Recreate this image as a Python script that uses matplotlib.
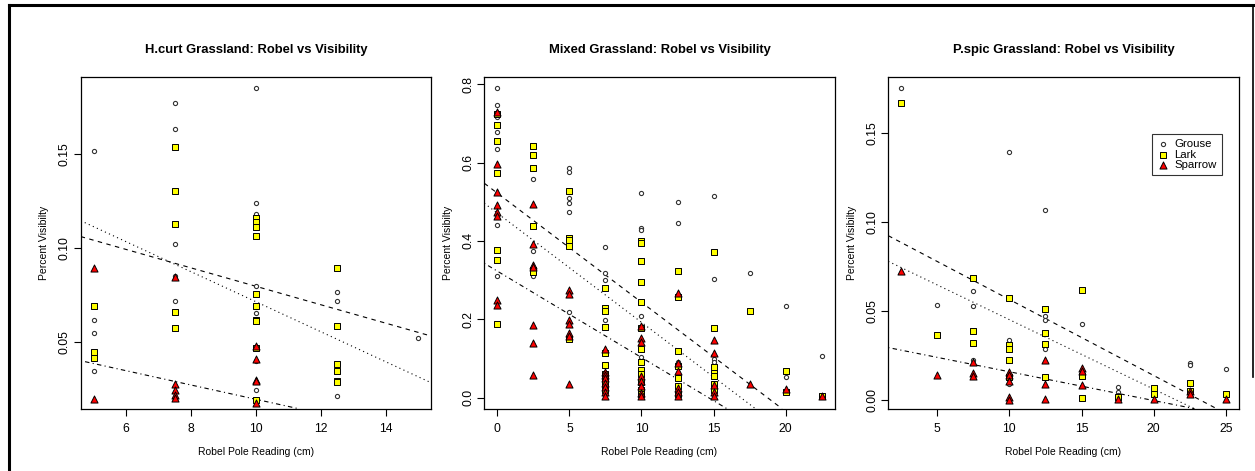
import matplotlib
matplotlib.use('Agg')
import matplotlib.pyplot as plt
from matplotlib.lines import Line2D

plt.rcParams['font.family'] = ['Liberation Sans', 'DejaVu Sans']

# H.curt grassland
hc_grouse_x = [5, 5, 5, 5, 7.5, 7.5, 7.5, 7.5, 7.5, 10, 10, 10, 10, 10, 10, 10, 12.5, 12.5, 12.5, 15]
hc_grouse_y = [0.1514, 0.0616, 0.0545, 0.0344, 0.1768, 0.163, 0.1018, 0.0717, 0.085,
               0.1848, 0.1236, 0.1179, 0.0798, 0.0651, 0.0243, 0.0397, 0.0763, 0.0717, 0.0211, 0.0521]
hc_lark_x = [5, 5, 5, 7.5, 7.5, 7.5, 7.5, 7.5, 10, 10, 10, 10, 10, 10, 10, 10, 10, 10,
             12.5, 12.5, 12.5, 12.5, 12.5, 12.5]
hc_lark_y = [0.069, 0.0444, 0.0412, 0.1537, 0.13, 0.1128, 0.066, 0.0575,
             0.1156, 0.1138, 0.1112, 0.1064, 0.0755, 0.0691, 0.0616, 0.0608, 0.0465, 0.019,
             0.0894, 0.0585, 0.038, 0.0346, 0.029, 0.0285]
hc_sparrow_x = [5, 5, 7.5, 7.5, 7.5, 7.5, 7.5, 10, 10, 10, 10, 10]
hc_sparrow_y = [0.089, 0.0195, 0.0846, 0.0275, 0.0243, 0.0216, 0.0199, 0.048, 0.041, 0.0296, 0.029, 0.0176]

# Mixed grassland
mx_grouse_x = [0, 0, 0, 0, 0, 0, 0, 0, 2.5, 2.5, 2.5, 5, 5, 5, 5, 5, 5, 7.5, 7.5, 7.5, 7.5, 7.5,
               10, 10, 10, 10, 10, 12.5, 12.5, 12.5, 15, 15, 15, 15, 17.5, 20, 20, 22.5]
mx_grouse_y = [0.790, 0.746, 0.726, 0.716, 0.677, 0.635, 0.441, 0.311, 0.557, 0.374, 0.311,
               0.587, 0.576, 0.509, 0.496, 0.473, 0.218, 0.385, 0.318, 0.300, 0.220, 0.197,
               0.522, 0.434, 0.428, 0.209, 0.105, 0.499, 0.445, 0.090, 0.515, 0.303, 0.100, 0.092,
               0.318, 0.234, 0.053, 0.106]
mx_lark_x = [0, 0, 0, 0, 0, 0, 0, 2.5, 2.5, 2.5, 2.5, 2.5, 2.5, 5, 5, 5, 5, 5,
             7.5, 7.5, 7.5, 7.5, 7.5, 7.5, 7.5, 7.5, 7.5,
             10, 10, 10, 10, 10, 10, 10, 10, 10, 10, 10, 10, 10,
             12.5, 12.5, 12.5, 12.5, 12.5, 12.5, 12.5, 15, 15, 15, 15, 15, 15, 15, 17.5, 20, 20, 22.5]
mx_lark_y = [0.724, 0.697, 0.656, 0.572, 0.378, 0.352, 0.189, 0.642, 0.618, 0.587, 0.439, 0.326, 0.320,
             0.527, 0.408, 0.403, 0.387, 0.149,
             0.279, 0.228, 0.222, 0.181, 0.113, 0.083, 0.060, 0.040, 0.020,
             0.400, 0.394, 0.350, 0.294, 0.245, 0.178, 0.124, 0.090, 0.071, 0.060, 0.040, 0.020, 0.010,
             0.324, 0.258, 0.119, 0.080, 0.050, 0.030, 0.010, 0.373, 0.179, 0.078, 0.064, 0.055, 0.035, 0.020,
             0.222, 0.069, 0.015, 0.005]
mx_sparrow_x = [0, 0, 0, 0, 0, 0, 0, 0, 2.5, 2.5, 2.5, 2.5, 2.5, 2.5, 2.5, 5, 5, 5, 5, 5, 5, 5,
                7.5, 7.5, 7.5, 7.5, 7.5, 7.5, 7.5, 7.5, 10, 10, 10, 10, 10, 10, 10, 10,
                12.5, 12.5, 12.5, 12.5, 12.5, 12.5, 15, 15, 15, 15, 15, 17.5, 20, 22.5]
mx_sparrow_y = [0.729, 0.597, 0.525, 0.492, 0.475, 0.464, 0.248, 0.236,
                0.494, 0.392, 0.339, 0.333, 0.186, 0.139, 0.058,
                0.275, 0.264, 0.198, 0.188, 0.164, 0.158, 0.034,
                0.124, 0.066, 0.058, 0.050, 0.038, 0.027, 0.015, 0.004,
                0.183, 0.152, 0.141, 0.055, 0.043, 0.030, 0.011, 0.005,
                0.267, 0.088, 0.068, 0.026, 0.015, 0.005, 0.146, 0.114, 0.032, 0.015, 0.005,
                0.035, 0.021, 0.004]

# P.spic grassland
ps_grouse_x = [2.5, 5, 7.5, 7.5, 7.5, 10, 10, 10, 10, 12.5, 12.5, 12.5, 12.5, 15,
               17.5, 17.5, 17.5, 20, 20, 22.5, 22.5, 25]
ps_grouse_y = [0.1753, 0.0534, 0.0612, 0.0530, 0.0226, 0.1393, 0.0339, 0.0092, 0.0120,
               0.1067, 0.0474, 0.0451, 0.0288, 0.0429, 0.0073, 0.0048, 0.0030, 0.0071, 0.0050,
               0.0208, 0.0199, 0.0174]
ps_lark_x = [2.5, 5, 7.5, 7.5, 7.5, 10, 10, 10, 10, 10, 12.5, 12.5, 12.5, 12.5, 15, 15, 15,
             17.5, 20, 20, 22.5, 22.5, 25]
ps_lark_y = [0.1672, 0.0369, 0.0689, 0.0391, 0.0324, 0.0577, 0.0311, 0.0287, 0.0225, 0.0130,
             0.0511, 0.0376, 0.0316, 0.0129, 0.0622, 0.0137, 0.0015, 0.0020, 0.0071, 0.0034,
             0.0096, 0.0050, 0.0037]
ps_sparrow_x = [2.5, 5, 7.5, 7.5, 7.5, 10, 10, 10, 10, 10, 12.5, 12.5, 12.5, 15, 15, 15,
                17.5, 20, 22.5, 22.5, 25]
ps_sparrow_y = [0.0727, 0.0140, 0.0213, 0.0155, 0.0137, 0.0157, 0.0142, 0.0110, 0.0020, 0.0002,
                0.0226, 0.0092, 0.0006, 0.0183, 0.0165, 0.0086, 0.0007, 0.0006, 0.0052, 0.0034, 0.0006]

# regression lines (intercept, slope): grouse, lark, sparrow
hc_fits = [(0.1285, -0.0049), (0.1511, -0.00798), (0.0574, -0.0038)]
mx_fits = [(0.522, -0.02785), (0.471, -0.02787), (0.323, -0.02204)]
ps_fits = [(0.0993, -0.004267), (0.0843, -0.0039), (0.0322, -0.001616)]

panels = [
    ('H.curt Grassland: Robel vs Visibility', hc_grouse_x, hc_grouse_y, hc_lark_x, hc_lark_y,
     hc_sparrow_x, hc_sparrow_y, hc_fits, (4.6, 15.4), (0.0144, 0.191),
     [6, 8, 10, 12, 14], [0.05, 0.10, 0.15], ['0.05', '0.10', '0.15']),
    ('Mixed Grassland: Robel vs Visibility', mx_grouse_x, mx_grouse_y, mx_lark_x, mx_lark_y,
     mx_sparrow_x, mx_sparrow_y, mx_fits, (-0.9, 23.4), (-0.028, 0.819),
     [0, 5, 10, 15, 20], [0.0, 0.2, 0.4, 0.6, 0.8], ['0.0', '0.2', '0.4', '0.6', '0.8']),
    ('P.spic Grassland: Robel vs Visibility', ps_grouse_x, ps_grouse_y, ps_lark_x, ps_lark_y,
     ps_sparrow_x, ps_sparrow_y, ps_fits, (1.6, 25.9), (-0.0047, 0.1818),
     [5, 10, 15, 20, 25], [0.00, 0.05, 0.10, 0.15], ['0.00', '0.05', '0.10', '0.15']),
]

lefts = [0.0643, 0.3859, 0.7078]
styles = [(0, (4, 4)), (0, (1, 3)), (0, (1, 3, 4, 3))]

fig = plt.figure(figsize=(12.55, 4.71), dpi=100)

# outer frame
fig.add_artist(Line2D([8.5 / 1255, 8.5 / 1255], [0, 1 - 4.5 / 471], color='black', lw=2.2))
fig.add_artist(Line2D([8.5 / 1255, 1253 / 1255], [1 - 4.5 / 471, 1 - 4.5 / 471], color='black', lw=2.2))
fig.add_artist(Line2D([1253 / 1255, 1253 / 1255], [1 - 4.5 / 471, 0.2], color='black', lw=1.2))

for i, p in enumerate(panels):
    (title, gx, gy, lx, ly, sx, sy, fits, xlim, ylim, xt, yt, ytl) = p
    ax = fig.add_axes([lefts[i], 0.1323, 0.2792, 0.7049])
    ax.scatter(gx, gy, s=9, marker='o', facecolors='white', edgecolors='#333333', linewidths=0.8, zorder=3)
    ax.scatter(lx, ly, s=14, marker='s', facecolors='#FFFF00', edgecolors='black', linewidths=0.7, zorder=4)
    ax.scatter(sx, sy, s=26, marker='^', facecolors='#FF0000', edgecolors='black', linewidths=0.7, zorder=5)
    for (b, m), ls in zip(fits, styles):
        ax.axline((0, b), slope=m, color='black', lw=0.8, linestyle=ls, zorder=2)
    ax.set_xlim(*xlim)
    ax.set_ylim(*ylim)
    ax.set_xticks(xt)
    ax.set_xticklabels([str(v) for v in xt])
    ax.set_yticks(yt)
    ax.set_yticklabels(ytl, rotation=90, va='center')
    ax.tick_params(length=5, width=0.8, labelsize=8.8, colors='black')
    ax.tick_params(axis='x', pad=5)
    ax.tick_params(axis='y', pad=2)
    for sp in ax.spines.values():
        sp.set_linewidth(0.9)
    ax.set_title(title, fontsize=9.4, fontweight='bold', pad=17)
    ax.set_xlabel('Robel Pole Reading (cm)', fontsize=7.5, labelpad=9)
    ax.set_ylabel('Percent Visibilty', fontsize=7.5, labelpad=7)
    if i == 2:
        h = [ax.scatter([], [], s=9, marker='o', facecolors='white', edgecolors='#333333', linewidths=0.8),
             ax.scatter([], [], s=14, marker='s', facecolors='#FFFF00', edgecolors='black', linewidths=0.7),
             ax.scatter([], [], s=26, marker='^', facecolors='#FF0000', edgecolors='black', linewidths=0.7)]
        leg = ax.legend(h, ['Grouse', 'Lark', 'Sparrow'], loc='upper right',
                        bbox_to_anchor=(0.968, 0.845), fontsize=8.2, frameon=True, fancybox=False,
                        edgecolor='black', handletextpad=0.5, borderpad=0.45, labelspacing=0.05,
                        handlelength=1.0)
        leg.get_frame().set_linewidth(0.8)

fig.savefig('out.png', dpi=100)
